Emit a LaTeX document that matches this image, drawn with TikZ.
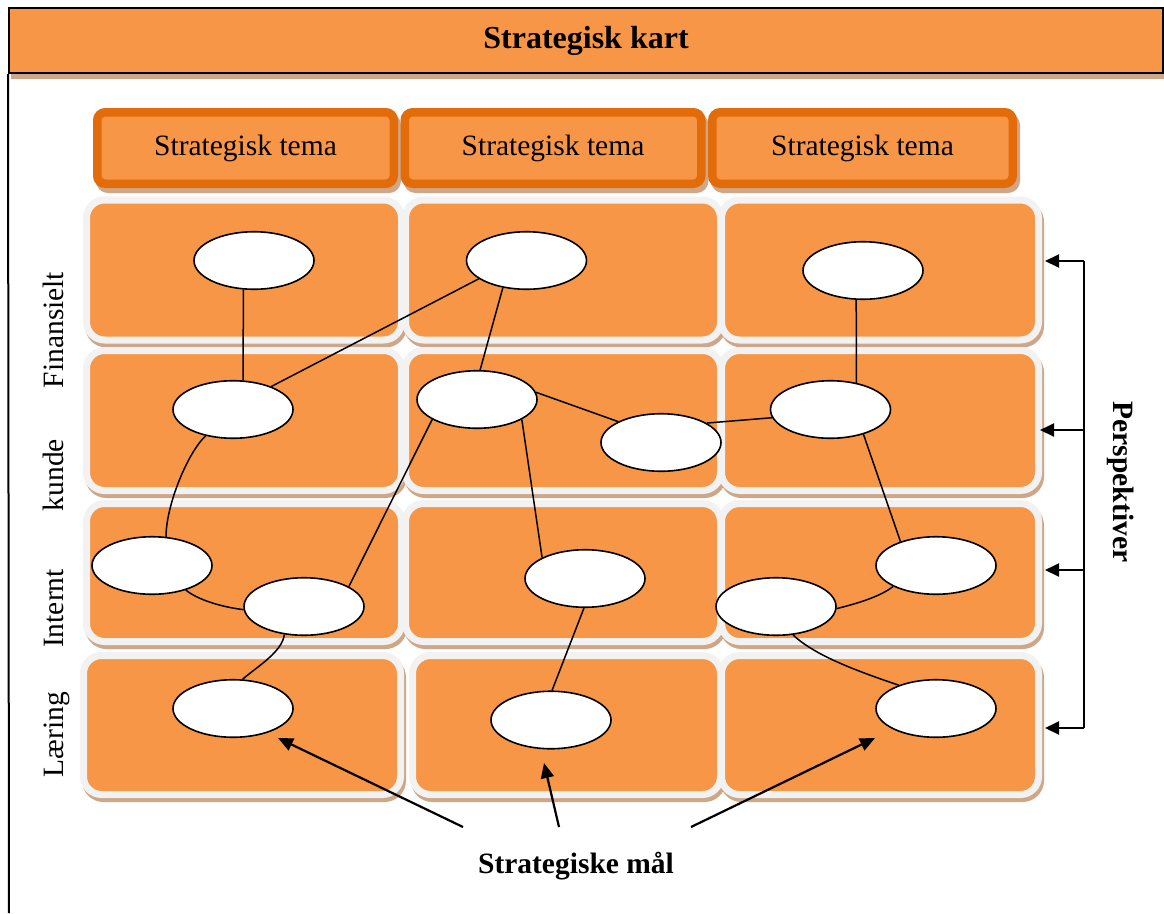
\documentclass[tikz,border=0pt]{standalone}
\usepackage{fontspec}
\setmainfont{Liberation Serif}
\usetikzlibrary{shapes.geometric,arrows.meta}
\definecolor{cellorange}{HTML}{F79646}
\definecolor{themeedge}{HTML}{E36C0A}
\definecolor{cellrim}{HTML}{F2F2F2}
\definecolor{dropshade}{HTML}{CFA687}
\tikzset{
  txt/.style={font=\fontsize{29.5}{34}\selectfont, inner sep=0pt, text=black},
  boldtxt/.style={txt, font=\fontsize{29.5}{34}\selectfont\bfseries},
  cell/.style={rectangle, draw=cellrim, line width=7pt, fill=cellorange,
    rounded corners=18pt, minimum width=315pt, minimum height=140pt, inner sep=0pt,
    preaction={draw=dropshade, fill=dropshade, transform canvas={shift={(2pt,-4pt)}}}},
  theme/.style={rectangle, draw=themeedge, line width=8.5pt, fill=cellorange,
    rounded corners=8pt, minimum width=296.5pt, minimum height=71.5pt, inner sep=0pt,
    font=\fontsize{29.5}{34}\selectfont,
    preaction={draw=dropshade, fill=dropshade, transform canvas={shift={(3pt,-5pt)}}}},
  banner/.style={rectangle, draw=black, line width=2pt, fill=cellorange,
    minimum width=1154pt, minimum height=65pt, inner sep=0pt,
    font=\fontsize{32}{36}\selectfont\bfseries,
    preaction={draw=dropshade, fill=dropshade, transform canvas={shift={(3pt,-5pt)}}}},
  goal/.style={ellipse, draw=black, line width=1.6pt, fill=white,
    minimum width=120pt, minimum height=57.5pt, inner sep=0pt},
  link/.style={draw=black, line width=1.5pt},
  pointer/.style={draw=black, line width=2.2pt, -{Triangle[length=15pt,width=13pt]}},
  sidearrow/.style={draw=black, line width=2pt, -{Triangle[length=14pt,width=13pt]}},
}
\begin{document}
\begin{tikzpicture}[x=1pt, y=-1pt]
\useasboundingbox (0,0) rectangle (1164,913);
\fill[white] (0,0) rectangle (1164,913);

% perspective rows x strategic themes
\node[cell] (c11) at (244,270) {};
\node[cell] (c12) at (563,270) {};
\node[cell, minimum width=317pt] (c13) at (880,270) {};
\node[cell] (c21) at (244,420.5) {};
\node[cell] (c22) at (563,420.5) {};
\node[cell, minimum width=317pt] (c23) at (880,420.5) {};
\node[cell, minimum height=138pt] (c31) at (244,572.5) {};
\node[cell, minimum height=138pt] (c32) at (563,572.5) {};
\node[cell, minimum height=138pt, minimum width=317pt] (c33) at (880,572.5) {};
\node[cell, minimum height=139pt, minimum width=317pt] (c41) at (242,725) {};
\node[cell, minimum height=139pt, minimum width=308pt] (c42) at (566.5,725) {};
\node[cell, minimum height=139pt, minimum width=317pt] (c43) at (880,725) {};

% theme headers
\node[theme] (t1) at (245.5,148) {Strategisk tema};
\node[theme] (t2) at (553,148) {Strategisk tema};
\node[theme, minimum width=300.5pt] (t3) at (862.5,148) {Strategisk tema};

% title banner and frame
\node[banner] (title) at (586,40.5) {Strategisk kart};
\coordinate (frameend) at (9,913);
\draw[line width=2pt] (title.south west) -- (frameend);

% strategic objectives
\node[goal] (F1) at (254,260.5) {};
\node[goal] (F2) at (526.5,260.5) {};
\node[goal] (F3) at (863,270.5) {};
\node[goal] (K1) at (233,409.5) {};
\node[goal] (K2a) at (477,399.5) {};
\node[goal] (K2b) at (661,442.5) {};
\node[goal] (K3) at (830.5,409.5) {};
\node[goal] (I1a) at (152,565.5) {};
\node[goal] (I1b) at (304,606.5) {};
\node[goal] (I2) at (585,578.5) {};
\node[goal] (I3a) at (936,565.5) {};
\node[goal] (I3b) at (776,606.5) {};
\node[goal] (L1) at (233,708.5) {};
\node[goal] (L2) at (551,720) {};
\node[goal] (L3) at (936,708.5) {};

% cause and effect links
\draw[link] (F1.-110.4) -- (K1.71.3);
\draw[link] (K1.31.5) -- (F2.201.5);
\draw[link] (F2.-131.7) -- (K2a.84.2);
\draw[link] (K2a.7.1) -- (K2b.154);
\draw[link] (K2b.23) -- (K3.188);
\draw[link] (F3.-103.4) -- (K3.46.4);
\draw[link] (K2a.-24.9) -- (I2.154.1);
\draw[link] (I2.-92) -- (L2.88);
\draw[link] (K1.-136.9) .. controls (188,452) and (166,505) .. (I1a.64);
\draw[link] (I1a.-36.9) .. controls (198,600) and (222,607) .. (I1b.183);
\draw[link] (I1b.-125.6) .. controls (282,652) and (258,666) .. (L1.72.9);
\draw[link] (I1b.24.9) -- (K2a.204.9);
\draw[link] (K3.-37.6) -- (I3a.146.5);
\draw[link] (I3a.206) .. controls (880,597) and (855,604) .. (I3b.-2);
\draw[link] (I3b.-59) .. controls (815,656) and (860,672) .. (L3.148.7);

% perspective labels
\node[txt, rotate=90, anchor=base] (lf) at (63,330) {Finansielt};
\node[txt, rotate=90, anchor=base] (lk) at (63,475) {kunde};
\node[txt, rotate=90, anchor=base] (li) at (63,608.5) {Internt};
\node[txt, rotate=90, anchor=base] (ll) at (63,734.5) {Læring};

% perspective bracket
\node[boldtxt, rotate=-90, anchor=base] (persp) at (1113,482) {Perspektiver};
\coordinate (p1) at (1084,261);
\coordinate (p2) at (1084,430);
\coordinate (p3) at (1084,570);
\coordinate (p4) at (1084,728);
\coordinate (q1) at (1045,261);
\coordinate (q2) at (1040,430);
\coordinate (q3) at (1045,570);
\coordinate (q4) at (1045,728);
\draw[line width=2pt] (p1) -- (p4);
\draw[sidearrow] (p1) -- (q1);
\draw[sidearrow] (p2) -- (q2);
\draw[sidearrow] (p3) -- (q3);
\draw[sidearrow] (p4) -- (q4);

% objectives caption
\node[boldtxt, anchor=base] (maal) at (576,873) {Strategiske mål};
\coordinate (mL) at (463,827);
\coordinate (mM) at (559,827);
\coordinate (mR) at (691,827);
\coordinate (tL) at (278,738);
\coordinate (tM) at (544,763);
\coordinate (tR) at (875,738);
\draw[pointer] (mL) -- (tL);
\draw[pointer] (mM) -- (tM);
\draw[pointer] (mR) -- (tR);
\end{tikzpicture}
\end{document}
